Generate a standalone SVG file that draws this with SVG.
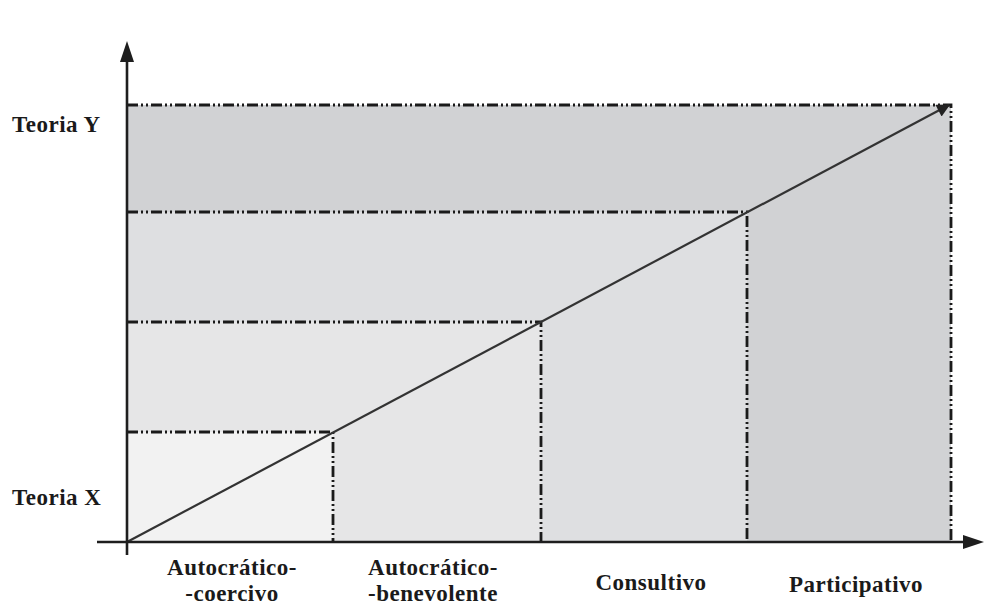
<svg xmlns="http://www.w3.org/2000/svg" width="984" height="608" viewBox="0 0 984 608">
  <style>
    .dd { fill: none; stroke: #1a1a1a; stroke-width: 2.8; stroke-dasharray: 11 3 2 3 2 3; }
    .axis { fill: none; stroke: #1e1e1e; stroke-width: 2.6; }
    .diag { fill: none; stroke: #333; stroke-width: 2.2; }
    .lbl { font-family: "Liberation Serif", "Times New Roman", serif; font-weight: bold; font-size: 23px; fill: #1a1a1a; letter-spacing: 0.5px; }
    .c { text-anchor: middle; }
  </style>
  <defs>
    <marker id="ah" viewBox="0 0 10 10" refX="9" refY="5" markerWidth="7" markerHeight="6" markerUnits="strokeWidth" orient="auto">
      <path d="M0,0 L10,5 L0,10 Z" fill="#222"/>
    </marker>
  </defs>
  <rect width="984" height="608" fill="#ffffff"/>

  <g id="regions">
    <g id="zone-autocratico-coercivo">
      <rect x="127" y="432" width="206" height="110" fill="#f2f2f2"/>
    </g>
    <g id="zone-autocratico-benevolente">
      <path d="M127,322 H541 V542 H333 V432 H127 Z" fill="#e6e6e7"/>
    </g>
    <g id="zone-consultivo">
      <path d="M127,212 H747 V542 H541 V322 H127 Z" fill="#dedfe1"/>
    </g>
    <g id="zone-participativo">
      <path d="M127,105 H951 V542 H747 V212 H127 Z" fill="#d1d2d4"/>
    </g>
  </g>

  <g id="connectors">
    <path class="dd" d="M127,105 H951 V542"/>
    <path class="dd" d="M127,212 H747 V542"/>
    <path class="dd" d="M127,322 H541 V542"/>
    <path class="dd" d="M127,432 H333 V542"/>
    <line class="diag" x1="127" y1="542" x2="949" y2="105" marker-end="url(#ah)"/>
  </g>

  <g id="axes">
    <line class="axis" x1="127" y1="555" x2="127" y2="58"/>
    <polygon points="127,41 120,62 134,62" fill="#1e1e1e"/>
    <line class="axis" x1="97" y1="542" x2="968" y2="542"/>
    <polygon points="984,542 963,535 963,549" fill="#1e1e1e"/>
  </g>

  <g id="labels">
    <text class="lbl" x="12" y="132">Teoria Y</text>
    <text class="lbl" x="12" y="505">Teoria X</text>
    <text class="lbl c" x="232" y="575">Autocrático-</text>
    <text class="lbl c" x="232" y="601">-coercivo</text>
    <text class="lbl c" x="433" y="575">Autocrático-</text>
    <text class="lbl c" x="433" y="601">-benevolente</text>
    <text class="lbl c" x="651" y="590">Consultivo</text>
    <text class="lbl c" x="856" y="592">Participativo</text>
  </g>
</svg>
